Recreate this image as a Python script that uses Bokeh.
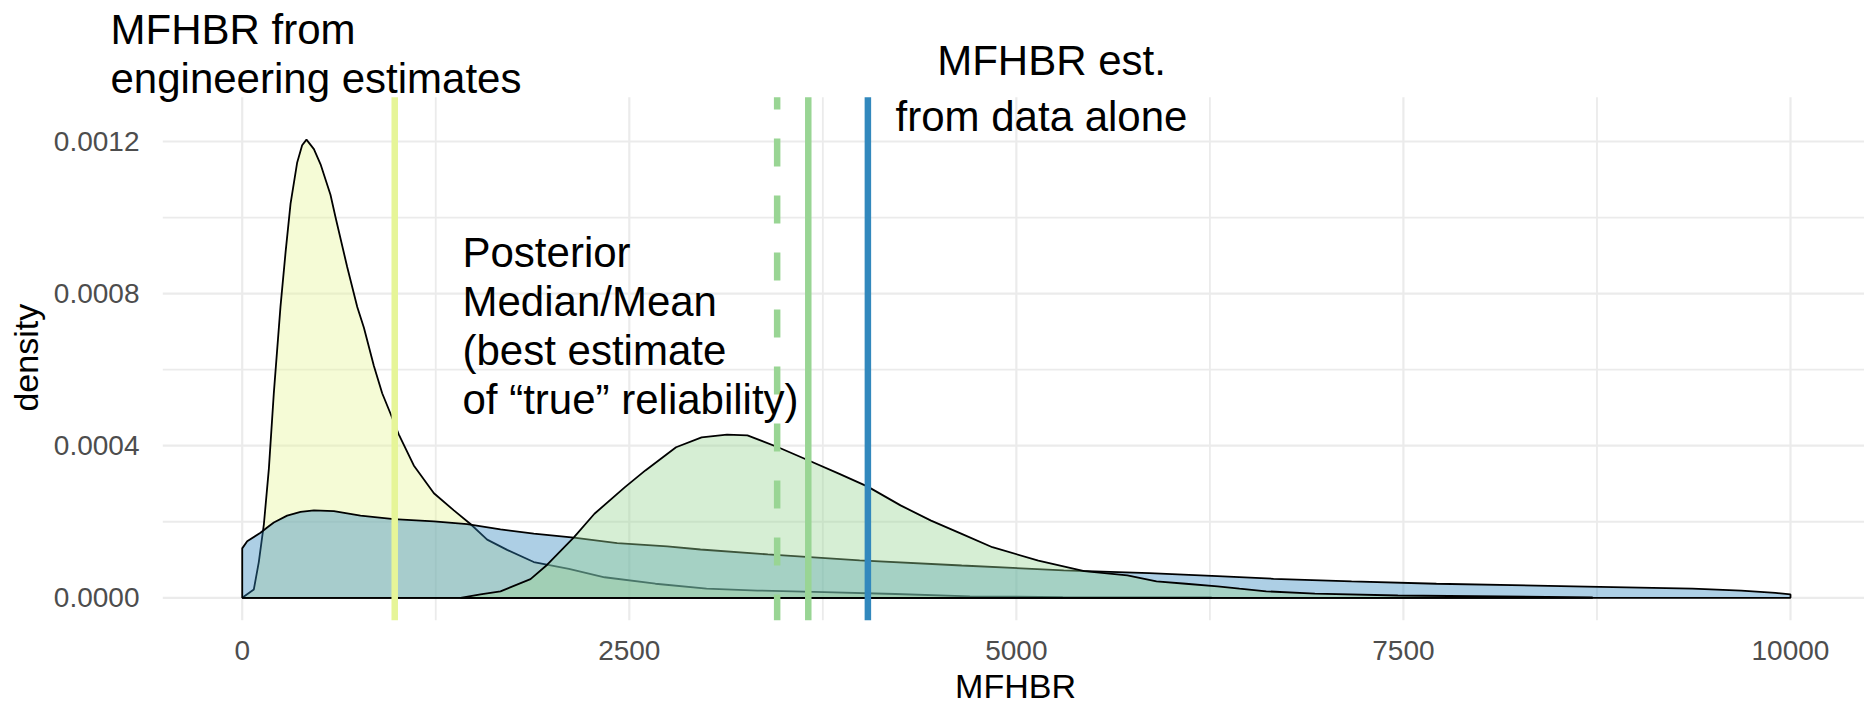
from bokeh.plotting import figure
from bokeh.models import Label, FixedTicker, PrintfTickFormatter, Range1d
from bokeh.embed import file_html
from bokeh.resources import INLINE

# ---------------- data ----------------
prior_x = [0, 75, 107, 140, 172, 204, 247, 280, 312, 355, 387, 415, 463, 506, 570, 603,
           678, 743, 786, 850, 904, 958, 1011, 1108, 1238, 1367, 1474, 1582, 1711, 1883,
           2110, 2340, 2669, 2999, 3328, 3758, 4219, 4700, 5300, 6260]
prior_y = [0, 0.000022, 0.000094, 0.000194, 0.000339, 0.000538, 0.000765, 0.000909,
           0.001036, 0.001145, 0.00119, 0.001205, 0.00118, 0.00114, 0.00106, 0.001,
           0.00087, 0.000765, 0.00071, 0.00061, 0.000538, 0.000484, 0.00043, 0.000348,
           0.000275, 0.00023, 0.000194, 0.000153, 0.000126, 0.000094, 0.000076, 0.000054,
           0.000037, 0.000024, 0.000019, 0.000015, 0.000010, 0.000004, 0.000002, 0.000001]

data_x = [0, 32, 118, 161, 204, 290, 377, 463, 592, 764, 979, 1238, 1453, 1668, 1883,
          2142, 2422, 2745, 2960, 3395, 3988, 4647, 5306, 5858, 6299, 6661, 7165, 7713,
          8597, 9367, 9682, 9903, 10000]
data_y = [0.00013, 0.000149, 0.000171, 0.000185, 0.000198, 0.000216, 0.000226, 0.00023,
          0.000228, 0.000216, 0.000207, 0.000201, 0.000194, 0.00018, 0.000169, 0.000158,
          0.000144, 0.000135, 0.000127, 0.000114, 0.0000985, 0.000085, 0.000072, 0.000065,
          0.000057, 0.00005, 0.000043, 0.000037, 0.00003, 0.000024, 0.000019, 0.000013,
          0.000009]

post_x = [1410, 1539, 1668, 1862, 1970, 2142, 2275, 2472, 2604, 2802, 2967, 3131, 3263,
          3461, 3659, 3857, 4037, 4252, 4449, 4647, 4845, 5142, 5438, 5717, 5905, 6095,
          6299, 6441, 6614, 6928, 7464, 8721]
post_y = [0, 0.000009, 0.000017, 0.000049, 0.000087, 0.000159, 0.000221, 0.000291,
          0.000335, 0.000396, 0.000422, 0.000429, 0.000427, 0.000396, 0.000361, 0.000326,
          0.000293, 0.000243, 0.000203, 0.000168, 0.000133, 0.000098, 0.00007, 0.000059,
          0.000043, 0.000037, 0.00003, 0.000024, 0.000017, 0.000011, 0.000006, 0.000001]

est_engineering = 985
post_median = 3455
post_mean = 3656
est_data = 4041

x_ticks = [0, 2500, 5000, 7500, 10000]
x_minor = [1250, 3750, 6250, 8750]
y_ticks = [0, 0.0004, 0.0008, 0.0012]
y_minor = [0.0002, 0.0006, 0.0010]

YELLOW = "#e6f598"
GREEN = "#99d594"
BLUE = "#3288bd"
GRID = "#ebebeb"
FONT = "Liberation Sans"
NBSP = "\u00a0"

# ---------------- geometry (screen pixels of the 1864x707 page) ----------------
W, H = 1864, 707
PANEL_LEFT_PX, PANEL_TOP_PX, PANEL_BOTTOM_PX = 162.3, 96.7, 620.0
FRAME_LEFT_PX = 100            # the frame reaches a bit left of / above the panel,
FRAME_TOP_PX = 0               # so that the notes outside the panel are not clipped
PX0, PX1 = -513, 10478         # panel x extent (values)
PY0, PY1 = -0.0000597, 0.0013165   # panel y extent (values)

sx = (W - PANEL_LEFT_PX) / (PX1 - PX0)
sy = (PANEL_BOTTOM_PX - PANEL_TOP_PX) / (PY1 - PY0)
X0 = PX0 - (PANEL_LEFT_PX - FRAME_LEFT_PX) / sx
Y1 = PY1 + (PANEL_TOP_PX - FRAME_TOP_PX) / sy

p = figure(width=W, height=H, output_backend="svg", toolbar_location=None,
           x_range=Range1d(X0, PX1), y_range=Range1d(PY0, Y1),
           min_border_left=FRAME_LEFT_PX, min_border_right=0, min_border_top=FRAME_TOP_PX,
           min_border_bottom=int(H - PANEL_BOTTOM_PX))
p.outline_line_color = None
p.background_fill_color = "white"
p.border_fill_color = "white"
p.xgrid.visible = False
p.ygrid.visible = False

# grid lines, drawn only inside the panel
p.segment(x0=x_minor, y0=[PY0] * len(x_minor), x1=x_minor, y1=[PY1] * len(x_minor),
          line_color=GRID, line_width=1.8)
p.segment(x0=x_ticks, y0=[PY0] * len(x_ticks), x1=x_ticks, y1=[PY1] * len(x_ticks),
          line_color=GRID, line_width=2.2)
p.segment(x0=[PX0] * len(y_minor), y0=y_minor, x1=[PX1] * len(y_minor), y1=y_minor,
          line_color=GRID, line_width=1.8)
p.segment(x0=[PX0] * len(y_ticks), y0=y_ticks, x1=[PX1] * len(y_ticks), y1=y_ticks,
          line_color=GRID, line_width=2.2)

p.xaxis.ticker = FixedTicker(ticks=x_ticks, minor_ticks=x_minor)
p.yaxis.ticker = FixedTicker(ticks=y_ticks, minor_ticks=y_minor)
p.xaxis.formatter = PrintfTickFormatter(format="%d")
p.yaxis.formatter = PrintfTickFormatter(format="%.4f")
for ax in (p.xaxis[0], p.yaxis[0]):
    ax.axis_line_color = None
    ax.major_tick_line_color = None
    ax.minor_tick_line_color = None
    ax.major_label_text_font = FONT
    ax.major_label_text_font_size = "28px"
    ax.major_label_text_color = "#4d4d4d"
    ax.axis_label_text_font = FONT
    ax.axis_label_text_font_size = "34px"
    ax.axis_label_text_font_style = "normal"
    ax.axis_label_text_color = "black"
# axis titles are centred on the frame; pad them so they centre on the panel instead
p.xaxis.axis_label = NBSP * 7 + "MFHBR"
p.yaxis.axis_label = "density" + NBSP * 10
p.xaxis.major_label_standoff = 14
p.xaxis.axis_label_standoff = 4
# tick labels sit 17px left of the panel, which starts right of the frame edge
p.yaxis.major_label_standoff = int(round(17 - (PANEL_LEFT_PX - FRAME_LEFT_PX)))
p.yaxis.axis_label_standoff = 6


def closed(xs, ys):
    return [xs[0]] + list(xs) + [xs[-1]], [0] + list(ys) + [0]


for xs, ys, col in ((prior_x, prior_y, YELLOW), (data_x, data_y, BLUE), (post_x, post_y, GREEN)):
    cx, cy = closed(xs, ys)
    p.patch(cx, cy, fill_color=col, fill_alpha=0.4, line_color="black", line_width=1.8)

for loc, col, dash in ((est_engineering, YELLOW, "solid"), (post_median, GREEN, "28 29"),
                       (post_mean, GREEN, "solid"), (est_data, BLUE, "solid")):
    p.segment(x0=[loc], y0=[PY0], x1=[loc], y1=[PY1], line_color=col, line_width=6.5,
              line_dash=dash, line_dash_offset=2)


def px2x(px):
    return PX0 + (px - PANEL_LEFT_PX) / sx


def px2y(py):
    return PY0 + (PANEL_BOTTOM_PX - py) / sy


LIFT = 12  # Bokeh draws the alphabetic baseline a little below the anchor
texts = [
    ("MFHBR from", 110, 41, "left"),
    ("engineering estimates", 110, 90, "left"),
    ("MFHBR est.", 1051, 72, "center"),
    ("from data alone", 1041, 128, "center"),
    ("Posterior", 462, 264, "left"),
    ("Median/Mean", 462, 313, "left"),
    ("(best estimate", 462, 362, "left"),
    ("of \u201ctrue\u201d reliability)", 462, 411, "left"),
]
for t, tx, ty, al in texts:
    p.add_layout(Label(x=px2x(tx), y=px2y(ty - LIFT), text=t, text_font=FONT,
                       text_font_size="42px", text_color="black", text_align=al,
                       text_baseline="alphabetic"))

open("out.html", "w").write(file_html(p, INLINE))
